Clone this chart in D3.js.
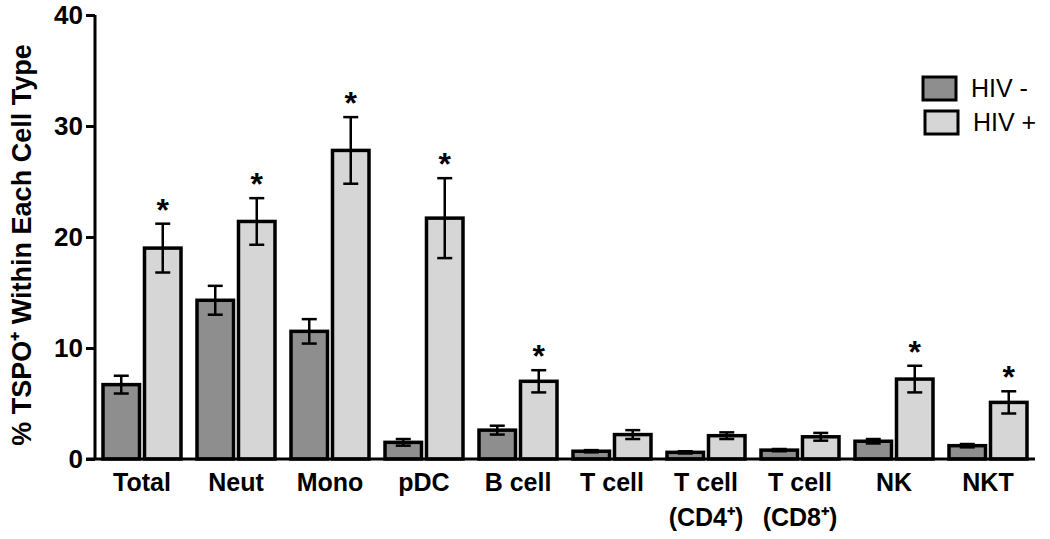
<!DOCTYPE html>
<html>
<head>
<meta charset="utf-8">
<script src="https://cdn.jsdelivr.net/npm/d3@7"></script>
<style>
  body { margin: 0; background: #fff; }
  text { font-family: 'Liberation Sans', Arial, sans-serif; }
</style>
</head>
<body>
<div id="chart"></div>
<script>
const categories = ['Total', 'Neut', 'Mono', 'pDC', 'B cell', 'T cell', 'T cell|(CD4⁺)', 'T cell|(CD8⁺)', 'NK', 'NKT']
const hivNeg = [6.7, 14.3, 11.5, 1.5, 2.6, 0.7, 0.6, 0.8, 1.6, 1.2]
const hivNegErr = [0.8, 1.3, 1.1, 0.3, 0.4, 0.1, 0.1, 0.1, 0.2, 0.15]
const hivPos = [19.0, 21.4, 27.8, 21.7, 7.0, 2.2, 2.1, 2.0, 7.2, 5.1]
const hivPosErr = [2.2, 2.1, 3.0, 3.6, 1.0, 0.4, 0.3, 0.35, 1.2, 1.0]
const significant = [true, true, true, true, true, false, false, false, true, true]
const yTicks = [0, 10, 20, 30, 40]
const seriesNames = ['HIV -', 'HIV +']
const colors = ['#8e8e8e', '#d6d6d6']

const width = 1050
const height = 539
const margin = { top: 15, left: 95, right: 15, bottom: 80 }

const svg = d3.select('#chart').append('svg')
  .attr('width', width)
  .attr('height', height)

const x = d3.scaleBand()
  .domain(categories)
  .range([margin.left, width - margin.right])

const x1 = d3.scaleBand()
  .domain(seriesNames)
  .range([8, x.bandwidth() - 8])
  .paddingInner(0.12)

const y = d3.scaleLinear()
  .domain([0, 40])
  .range([height - margin.bottom, margin.top])

const rows = categories.map((c, i) => ({
  cat: c,
  vals: [
    { s: seriesNames[0], v: hivNeg[i], e: hivNegErr[i], star: false },
    { s: seriesNames[1], v: hivPos[i], e: hivPosErr[i], star: significant[i] }
  ]
}))

const groups = svg.selectAll('.grp')
  .data(rows)
  .enter()
  .append('g')
  .attr('class', 'grp')
  .attr('transform', d => 'translate(' + x(d.cat) + ',0)')

const bar = groups.selectAll('.bar')
  .data(d => d.vals)
  .enter()
  .append('g')

bar.append('rect')
  .attr('x', d => x1(d.s))
  .attr('y', d => y(d.v))
  .attr('width', x1.bandwidth())
  .attr('height', d => y(0) - y(d.v))
  .attr('fill', (d, i) => colors[i])
  .attr('stroke', '#000')
  .attr('stroke-width', 3.5)

// error bars
const cap = 7.5
bar.append('line')
  .attr('x1', d => x1(d.s) + x1.bandwidth() / 2)
  .attr('x2', d => x1(d.s) + x1.bandwidth() / 2)
  .attr('y1', d => y(d.v + d.e))
  .attr('y2', d => y(d.v - d.e))
  .attr('stroke', '#000')
  .attr('stroke-width', 2.5)
bar.selectAll('.cap')
  .data(d => [{ d, v: d.v + d.e }, { d, v: d.v - d.e }])
  .enter()
  .append('line')
  .attr('x1', c => x1(c.d.s) + x1.bandwidth() / 2 - cap)
  .attr('x2', c => x1(c.d.s) + x1.bandwidth() / 2 + cap)
  .attr('y1', c => y(c.v))
  .attr('y2', c => y(c.v))
  .attr('stroke', '#000')
  .attr('stroke-width', 2.5)

bar.filter(d => d.star)
  .append('text')
  .attr('x', d => x1(d.s) + x1.bandwidth() / 2)
  .attr('y', d => y(d.v + d.e) - 3)
  .attr('text-anchor', 'middle')
  .attr('font-size', 32)
  .attr('font-weight', 'bold')
  .text('*')

// axes
const yAxis = svg.append('g')
  .attr('transform', 'translate(' + margin.left + ',0)')
  .call(d3.axisLeft(y).tickValues(yTicks).tickSize(9).tickPadding(3))
yAxis.select('.domain').attr('stroke-width', 3).attr('d', 'M0,' + y(0) + 'V' + y(40))
yAxis.selectAll('.tick line').attr('stroke-width', 3)
yAxis.selectAll('.tick text')
  .attr('font-size', 26)
  .attr('font-weight', 'bold')
  .attr('fill', '#000')
  .style('font-family', "'Liberation Sans', Arial, sans-serif")

svg.append('line')
  .attr('x1', margin.left - 9)
  .attr('x2', width - margin.right)
  .attr('y1', y(0))
  .attr('y2', y(0))
  .attr('stroke', '#000')
  .attr('stroke-width', 3)

const xLabels = svg.selectAll('.xl')
  .data(categories)
  .enter()
  .append('text')
  .attr('class', 'xl')
  .attr('x', d => x(d) + x.bandwidth() / 2)
  .attr('y', y(0) + 32)
  .attr('text-anchor', 'middle')
  .attr('font-size', 25)
  .attr('font-weight', 'bold')
xLabels.selectAll('tspan')
  .data(d => d.split('|'))
  .enter()
  .append('tspan')
  .attr('x', function() { return d3.select(this.parentNode).attr('x') })
  .attr('dy', (d, i) => i === 0 ? 0 : 35)
  .text(d => d)

svg.append('text')
  .attr('transform', 'translate(31,' + (y(20) + 8) + ') rotate(-90)')
  .attr('text-anchor', 'middle')
  .attr('font-size', 27)
  .attr('font-weight', 'bold')
  .text('% TSPO⁺ Within Each Cell Type')

// legend
const legend = svg.append('g').attr('transform', 'translate(923,77)')
seriesNames.forEach((s, i) => {
  const g = legend.append('g').attr('transform', 'translate(' + (i * 2) + ',' + (i * 34) + ')')
  g.append('rect')
    .attr('width', 33)
    .attr('height', 23)
    .attr('fill', colors[i])
    .attr('stroke', '#000')
    .attr('stroke-width', 3)
  g.append('text')
    .attr('x', 48)
    .attr('y', 20)
    .attr('font-size', 25)
    .text(s)
})
</script>
</body>
</html>
